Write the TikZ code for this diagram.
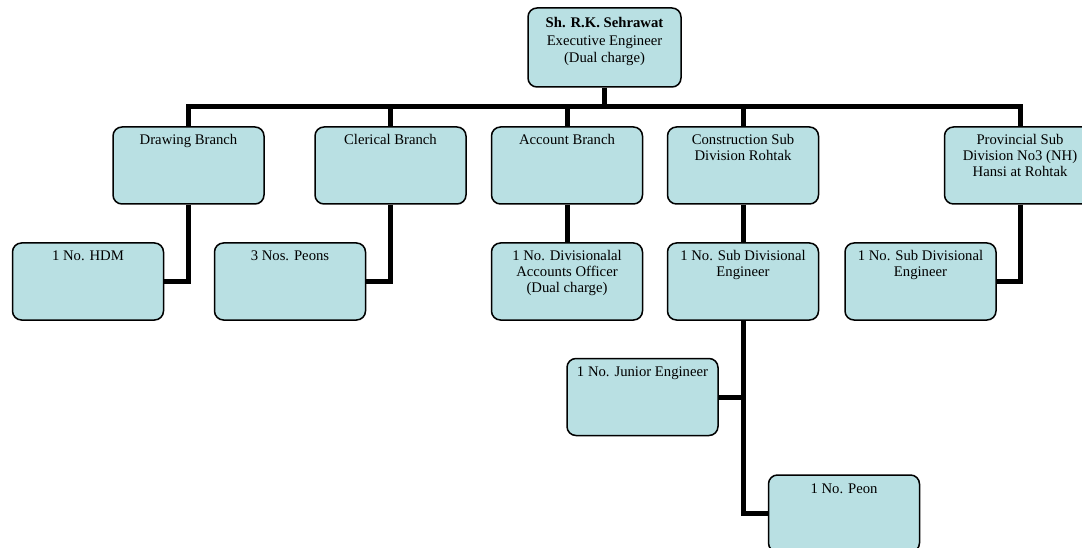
\documentclass[tikz,border=0pt]{standalone}
\usepackage{fontspec}
\setmainfont{Liberation Serif}
\definecolor{unitfill}{RGB}{185,224,227}
\newcommand{\unittext}[1]{\parbox[t][77pt][t]{151pt}{\centering\rule{0pt}{18pt}#1}}
\begin{document}
\begin{tikzpicture}[x=1pt,y=-1pt,
    unit/.style={draw=black, line width=1.5pt, fill=unitfill, rounded corners=9pt, inner sep=0pt, font=\fontsize{14.7}{16}\selectfont},
    link/.style={line width=5pt}]
            \clip (0,0) rectangle (1082,548);
            \node[unit] (ee) at (604.5,47.5) {\parbox[t][79pt][t]{153pt}{\centering\fontsize{14.7}{17.5}\selectfont\rule{0pt}{20pt}\textbf{Sh. R.K. Sehrawat}\\ Executive Engineer\\ (Dual charge)}};

            \node[unit] (drw) at (188.5,165.5) {\unittext{Drawing Branch}};
            \node[unit] (clr) at (390.5,165.5) {\unittext{Clerical Branch}};
            \node[unit] (acc) at (567,165.5) {\unittext{Account Branch}};
            \node[unit] (csd) at (743,165.5) {\unittext{Construction Sub\\ Division Rohtak}};
            \node[unit] (psd) at (1020,165.5) {\unittext{Provincial Sub\\ Division No3 (NH)\\ Hansi at Rohtak}};

            \node[unit] (hdm) at (88,281.5) {\unittext{1 No. HDM}};
            \node[unit] (pns) at (290,281.5) {\unittext{3 Nos. Peons}};
            \node[unit] (dao) at (567,281.5) {\unittext{1 No. Divisionalal\\ Accounts Officer\\ (Dual charge)}};
            \node[unit] (sde) at (743,281.5) {\unittext{1 No. Sub Divisional\\ Engineer}};
            \node[unit] (sdp) at (920.5,281.5) {\unittext{1 No. Sub Divisional\\ Engineer}};

            \node[unit] (jen) at (642.5,397) {\unittext{1 No. Junior Engineer}};
            \node[unit] (peon) at (844,513.5) {\unittext{1 No. Peon}};

            \coordinate (bus) at (0,107);
            \draw[link] (drw.north) -- (drw.north |- bus) -- (psd.north |- bus) -- (psd.north);
            \draw[link] (ee.south) -- (ee.south |- bus);
            \draw[link] (clr.north) -- (clr.north |- bus);
            \draw[link] (acc.north) -- (acc.north |- bus);
            \draw[link] (csd.north) -- (csd.north |- bus);

            \draw[link] (drw.south) |- (hdm.east);
            \draw[link] (clr.south) |- (pns.east);
            \draw[link] (acc.south) -- (dao.north);
            \draw[link] (csd.south) -- (sde.north);
            \draw[link] (psd.south) |- (sdp.east);
            \draw[link] (sde.south) |- (peon.west);
            \draw[link] (jen.east) -| (sde.south);
        \end{tikzpicture}
\end{document}
